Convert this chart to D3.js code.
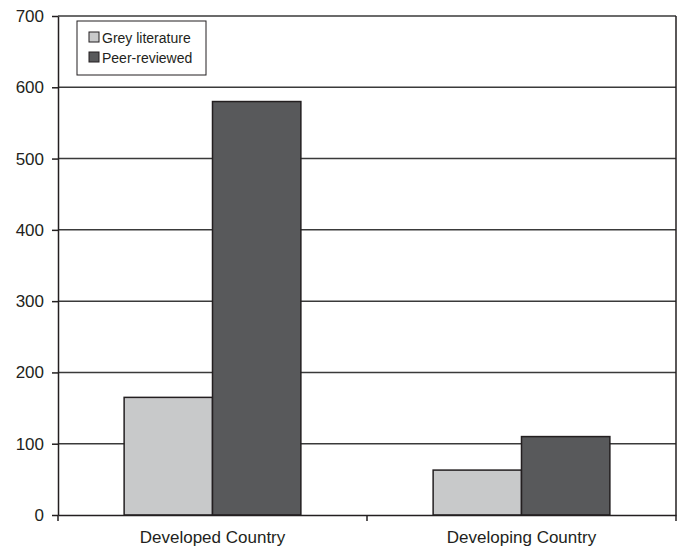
<!DOCTYPE html>
<html>
<head>
  <meta charset="utf-8">
  <script src="https://d3js.org/d3.v7.min.js"></script>
  <style>
    body { margin: 0; background: #fff; }
    text { font-family: "Liberation Sans", Arial, sans-serif; fill: #231f20; }
    .grid line { stroke: #3a3a3a; stroke-width: 1.5px; }
    .bar { stroke: #231f20; stroke-width: 1.5px; }
  </style>
</head>
<body>

<script>
  var categories = ["Developed Country", "Developing Country"];
  var seriesNames = ["Grey literature", "Peer-reviewed"];
  var greyLiterature = [165, 63];
  var peerReviewed = [580, 110];
  var yTicks = [0, 100, 200, 300, 400, 500, 600, 700];
  var colors = ["#c8c9ca", "#58595b"];

  var width = 681,
      height = 550;

  var plotLeft = 58, plotRight = 676, plotTop = 16, plotBottom = 515;

  var svg = d3.select("body")
      .append("svg")
      .attr("width", width)
      .attr("height", height);

  var y = d3.scaleLinear().domain([0, 700]).range([plotBottom, plotTop]);

  var x0 = d3.scaleBand()
      .domain(categories)
      .range([plotLeft, plotRight])
      .paddingInner(0.428)
      .paddingOuter(0.214);

  var x1 = d3.scaleBand()
      .domain(seriesNames)
      .range([0, x0.bandwidth()]);

  // gridlines (also the top border)
  svg.append("g")
      .attr("class", "grid")
      .selectAll("line")
      .data(yTicks.slice(1))
      .enter().append("line")
      .attr("x1", plotLeft)
      .attr("x2", plotRight)
      .attr("y1", function(d) { return y(d); })
      .attr("y2", function(d) { return y(d); });

  // bars
  var rows = categories.map(function(c, i) {
    return { cat: c, values: [greyLiterature[i], peerReviewed[i]] };
  });

  var groups = svg.selectAll(".group")
      .data(rows)
      .enter().append("g")
      .attr("transform", function(d) { return "translate(" + x0(d.cat) + ",0)"; });

  groups.selectAll("rect")
      .data(function(d) {
        return d.values.map(function(v, j) { return { key: seriesNames[j], value: v, j: j }; });
      })
      .enter().append("rect")
      .attr("class", "bar")
      .attr("x", function(d) { return x1(d.key); })
      .attr("width", x1.bandwidth())
      .attr("y", function(d) { return y(d.value); })
      .attr("height", function(d) { return y(0) - y(d.value); })
      .attr("fill", function(d) { return colors[d.j]; });

  // right border
  svg.append("line")
      .attr("x1", plotRight).attr("x2", plotRight)
      .attr("y1", plotTop).attr("y2", plotBottom)
      .attr("stroke", "#231f20").attr("stroke-width", 1.5);

  // y axis
  var yAxis = svg.append("g")
      .attr("transform", "translate(" + plotLeft + ",0)")
      .call(d3.axisLeft(y).tickValues(yTicks).tickSize(6).tickPadding(8).tickSizeOuter(0));
  yAxis.select(".domain").attr("stroke", "#231f20").attr("stroke-width", 1.5);
  yAxis.selectAll(".tick line").attr("stroke", "#231f20").attr("stroke-width", 1.5);
  yAxis.selectAll(".tick text")
      .style("font-size", "17px")
      .attr("fill", "#231f20")
      .attr("font-family", null);

  // x axis
  var xAxis = svg.append("g")
      .attr("transform", "translate(0," + plotBottom + ")")
      .call(d3.axisBottom(x0).tickSize(0).tickPadding(16));
  xAxis.select(".domain").attr("stroke", "#231f20").attr("stroke-width", 1.5);
  xAxis.selectAll(".tick text")
      .style("font-size", "17px")
      .attr("fill", "#231f20")
      .attr("font-family", null);

  // category separators below the axis
  var seps = [plotLeft, (plotLeft + plotRight) / 2, plotRight];
  svg.selectAll(".sep")
      .data(seps)
      .enter().append("line")
      .attr("x1", function(d) { return d; })
      .attr("x2", function(d) { return d; })
      .attr("y1", plotBottom)
      .attr("y2", plotBottom + 6)
      .attr("stroke", "#231f20")
      .attr("stroke-width", 1.5);

  // legend
  var legend = svg.append("g");
  legend.append("rect")
      .attr("x", 77).attr("y", 21)
      .attr("width", 129).attr("height", 54)
      .attr("fill", "#fff")
      .attr("stroke", "#231f20")
      .attr("stroke-width", 1);

  var items = legend.selectAll(".item")
      .data(seriesNames)
      .enter().append("g")
      .attr("transform", function(d, i) { return "translate(89," + (32 + i * 20) + ")"; });

  items.append("rect")
      .attr("width", 10).attr("height", 10)
      .attr("fill", function(d, i) { return colors[i]; })
      .attr("stroke", "#231f20")
      .attr("stroke-width", 1);

  items.append("text")
      .attr("x", 13)
      .attr("y", 10.5)
      .style("font-size", "14px")
      .text(function(d) { return d; });
</script>

</body>
</html>
